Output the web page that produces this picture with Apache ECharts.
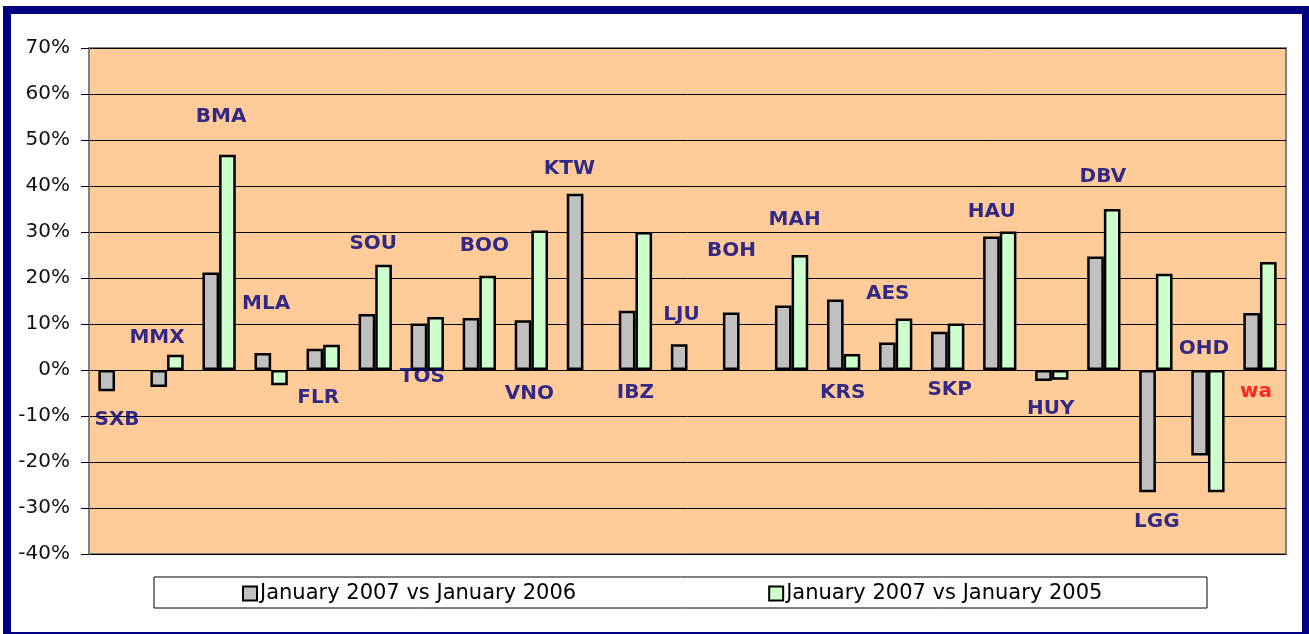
<!DOCTYPE html>
<html>
<head>
  <meta charset="utf-8">
  <title>ECharts</title>
  <script src="https://cdn.jsdelivr.net/npm/echarts@6/dist/echarts.min.js"></script>
  <style>
    body { margin: 0; overflow: hidden; background: #fff; }
    #frame { position: absolute; left: 3px; top: 6px; width: 1307px; height: 634px; border: 8px solid #000080; box-sizing: border-box; background: #fff; }
    #main { position: absolute; left: 0; top: 0; width: 1309px; height: 634px; }
  </style>
</head>
<body>
<div id="frame"></div>
<div id="main"></div>
<script type="text/javascript">
  // airports, in chart order
  var airports = ['SXB', 'MMX', 'BMA', 'MLA', 'FLR', 'SOU', 'TOS', 'BOO', 'VNO', 'KTW', 'IBZ', 'LJU',
    'BOH', 'MAH', 'KRS', 'AES', 'SKP', 'HAU', 'HUY', 'DBV', 'LGG', 'OHD', 'wa'];
  // growth in %
  var vs2006 = [-4.6, -3.7, 21.2, 3.7, 4.6, 12.2, 10.1, 11.3, 10.8, 38.3, 12.9, 5.6,
    12.5, 14.0, 15.3, 6.0, 8.3, 29.0, -2.4, 24.7, -26.6, -18.6, 12.4];
  var vs2005 = [null, 3.3, 46.8, -3.3, 5.5, 22.9, 11.5, 20.5, 30.3, null, 30.0, null,
    null, 25.0, 3.5, 11.2, 10.1, 30.1, -2.1, 35.0, 20.9, -26.6, 23.5];
  // where each airport name sits, in % on the value axis
  var labelY = [-10.8, 7.0, 55.0, 14.4, -6.0, 27.4, -1.5, 27.1, -5.2, 43.8, -5.0, 12.0,
    26.0, 32.7, -4.9, 16.5, -4.4, 34.5, -8.5, 42.1, -32.9, 4.6, -4.8];
  var labelShift = [2, -10, 2, -5, -5, -2, -5, 5, -2, -14, 0, -6,
    -8, 3, -1, -8, 2, -8, -1, -1, 1, -4, -4];
  var yTicks = { min: -40, max: 70, step: 10 };

  var myChart = echarts.init(document.getElementById('main'));

  var nameData = airports.map(function (a, i) {
    var c = a === 'wa' ? '#ff0000' : '#000080';
    return {
      value: [a, labelY[i]],
      itemStyle: { color: c },
      label: { color: c, offset: [labelShift[i], 0] }
    };
  });

  var font = '"DejaVu Sans", Verdana, sans-serif';

  var option = {
    animation: false,
    textStyle: { fontFamily: font },
    grid: {
      left: 89, top: 48, right: 23, bottom: 80,
      show: true,
      backgroundColor: '#FFCC99',
      borderColor: '#808080',
      borderWidth: 2
    },
    legend: {
      data: ['January 2007 vs January 2006', 'January 2007 vs January 2005'],
      left: 237,
      top: 578,
      itemGap: 192,
      itemWidth: 14,
      itemHeight: 14,
      icon: 'rect',
      itemStyle: { borderColor: '#000', borderWidth: 2 },
      textStyle: { fontSize: 21, color: '#000', fontFamily: font, padding: [0, 0, 0, -2] }
    },
    graphic: [{
      type: 'rect',
      shape: { x: 154, y: 577, width: 1053, height: 31 },
      style: { fill: '#fff', stroke: '#000', lineWidth: 1 },
      z: -1
    }],
    xAxis: {
      type: 'category',
      data: airports,
      axisLine: { show: false },
      axisTick: { show: false },
      axisLabel: { show: false }
    },
    yAxis: {
      type: 'value',
      min: yTicks.min,
      max: yTicks.max,
      interval: yTicks.step,
      axisLine: { show: true, lineStyle: { color: '#808080', width: 2 } },
      axisTick: { show: true, length: 8, lineStyle: { color: '#000' } },
      axisLabel: { formatter: '{value}%', fontSize: 20, color: '#111', margin: 19, fontFamily: font },
      splitLine: { lineStyle: { color: '#000', width: 1 } }
    },
    series: [
      {
        name: 'January 2007 vs January 2006',
        type: 'bar',
        data: vs2006,
        barGap: '0%',
        barCategoryGap: '36%',
        itemStyle: { color: '#C0C0C0', borderColor: '#000', borderWidth: 2.5 }
      },
      {
        name: 'January 2007 vs January 2005',
        type: 'bar',
        data: vs2005,
        barGap: '0%',
        barCategoryGap: '36%',
        itemStyle: { color: '#CCFFCC', borderColor: '#000', borderWidth: 2.5 }
      },
      {
        name: 'airports',
        type: 'scatter',
        symbolSize: 0,
        data: nameData,
        z: 5,
        itemStyle: { color: '#000080' },
        label: {
          show: true,
          position: 'inside',
          fontSize: 20,
          fontWeight: 'bold',
          fontFamily: font,
          textBorderWidth: 0,
          formatter: function (p) { return p.value[0]; }
        }
      }
    ]
  };
  myChart.setOption(option);
</script>
</body>
</html>
